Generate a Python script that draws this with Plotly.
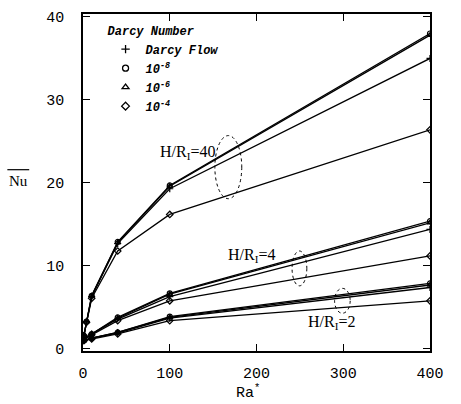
import plotly.graph_objects as go

# ---- data ----
ra_40 = [1, 4, 10, 40, 100, 400]
nu40_d8 = [1.6, 3.3, 6.4, 12.9, 19.7, 38.0]
nu40_d6 = [1.6, 3.3, 6.4, 12.8, 19.6, 37.8]
nu40_df = [1.6, 3.3, 6.3, 12.7, 19.3, 35.0]
nu40_d4 = [1.6, 3.2, 6.1, 11.8, 16.2, 26.4]

ra_s = [1, 10, 40, 100, 400]
nu4_d8 = [1.1, 1.8, 3.8, 6.7, 15.4]
nu4_d6 = [1.1, 1.8, 3.7, 6.6, 15.2]
nu4_df = [1.1, 1.8, 3.6, 6.3, 14.4]
nu4_d4 = [1.1, 1.7, 3.4, 5.8, 11.2]

nu2_d8 = [1.0, 1.3, 2.0, 3.9, 7.9]
nu2_d6 = [1.0, 1.3, 2.0, 3.8, 7.7]
nu2_df = [1.0, 1.3, 1.9, 3.7, 7.4]
nu2_d4 = [1.0, 1.2, 1.8, 3.4, 5.8]

legend_names = ["Darcy Flow", "10<sup>-8</sup>", "10<sup>-6</sup>", "10<sup>-4</sup>"]
symbols = ["cross-thin-open", "circle-open", "triangle-up-open", "diamond-open"]

x_ticks = [0, 100, 200, 300, 400]
y_ticks = [0, 10, 20, 30, 40]

groups = [
    (ra_40, [nu40_df, nu40_d8, nu40_d6, nu40_d4]),
    (ra_s, [nu4_df, nu4_d8, nu4_d6, nu4_d4]),
    (ra_s, [nu2_df, nu2_d8, nu2_d6, nu2_d4]),
]

fig = go.Figure()
for ra, series in groups:
    for k, ys in enumerate(series):
        fig.add_trace(go.Scatter(
            x=ra, y=ys, mode="lines+markers", showlegend=False,
            line=dict(color="black", width=1.3),
            marker=dict(symbol=symbols[k], size=5, color="black",
                        line=dict(color="black", width=1.2)),
        ))

for k, name in enumerate(legend_names):
    fig.add_trace(go.Scatter(
        x=[None], y=[None], mode="markers", name=name,
        marker=dict(symbol=symbols[k], size=6, color="black",
                    line=dict(color="black", width=1.3)),
    ))

mono = "Liberation Mono"
serif = "Liberation Serif"

# ellipses (dotted)
ellipses = [(152, 183, 18.1, 25.7), (241, 258, 7.6, 11.8), (290, 308, 4.3, 7.3)]
for x0, x1, y0, y1 in ellipses:
    fig.add_shape(type="circle", xref="x", yref="y", x0=x0, x1=x1, y0=y0, y1=y1,
                  line=dict(color="black", width=1, dash="dot"))

labels = [("H/R<sub>I</sub>=40", 121, 23.7), ("H/R<sub>I</sub>=4", 194, 11.2),
          ("H/R<sub>I</sub>=2", 286, 3.2)]
for txt, x, y in labels:
    fig.add_annotation(x=x, y=y, xref="x", yref="y", text=txt, showarrow=False,
                       font=dict(family=serif, size=16, color="black"),
                       bgcolor="rgba(0,0,0,0)")

# axis titles
fig.add_annotation(x=0.475, y=-0.085, xref="paper", yref="paper", text="Ra<sup>*</sup>",
                   showarrow=False, xanchor="center", yanchor="top",
                   font=dict(family=mono, size=15, color="black"))
fig.add_annotation(x=-0.187, y=0.505, xref="paper", yref="paper", text="Nu",
                   showarrow=False, xanchor="center", yanchor="middle",
                   font=dict(family=serif, size=15, color="black"))
fig.add_shape(type="line", xref="paper", yref="paper", x0=-0.218, x1=-0.155,
              y0=0.538, y1=0.538, line=dict(color="black", width=1.2))

axis_common = dict(showgrid=False, zeroline=False, showline=True, linecolor="black",
                   linewidth=1.5, mirror="ticks", ticks="inside", ticklen=7,
                   tickcolor="black", tickwidth=1.3,
                   tickfont=dict(family=mono, size=15, color="black"))

fig.update_xaxes(range=[0, 400], tickvals=x_ticks, ticklabelstandoff=7, **axis_common)
fig.update_yaxes(range=[-0.25, 40.35], tickvals=y_ticks, ticklabelstandoff=14, **axis_common)

fig.update_layout(
    width=461, height=404,
    margin=dict(l=83, r=31, t=10, b=53),
    paper_bgcolor="white", plot_bgcolor="white",
    legend=dict(x=0.065, y=0.985, xanchor="left", yanchor="top",
                bgcolor="rgba(0,0,0,0)", tracegroupgap=0, itemwidth=30,
                title=dict(text="Darcy Number",
                           font=dict(family=mono, size=12, color="black", style="italic", weight="bold")),
                font=dict(family=mono, size=12, color="black", style="italic", weight="bold")),
)

fig.write_html("out.html")
